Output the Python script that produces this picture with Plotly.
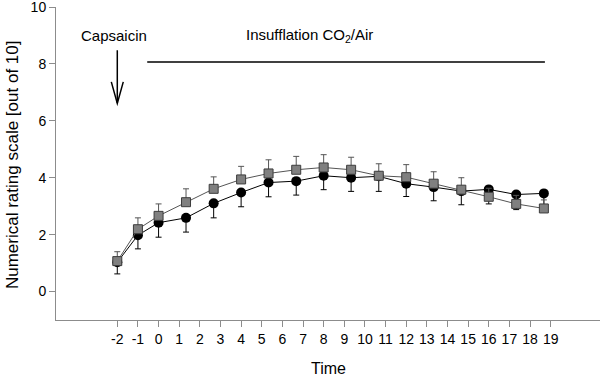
import plotly.graph_objects as go

# Time points (x positions on the time axis)
time_points = [-2, -1, 0, 1.33, 2.67, 4, 5.33, 6.67, 8, 9.33, 10.67, 12, 13.33, 14.67, 16, 17.33, 18.67]

# Gray squares series (mean and upward SEM)
square_mean = [1.07, 2.19, 2.66, 3.14, 3.61, 3.94, 4.15, 4.28, 4.36, 4.28, 4.07, 4.02, 3.79, 3.58, 3.33, 3.08, 2.92]
square_err = [0.33, 0.40, 0.42, 0.47, 0.42, 0.46, 0.48, 0.47, 0.45, 0.44, 0.42, 0.44, 0.42, 0.42, 0.30, 0.30, 0.30]

# Black circles series (mean and downward SEM)
circle_mean = [1.03, 1.98, 2.42, 2.59, 3.10, 3.48, 3.83, 3.88, 4.07, 4.00, 4.05, 3.79, 3.67, 3.53, 3.59, 3.41, 3.45]
circle_err = [0.41, 0.48, 0.51, 0.50, 0.51, 0.50, 0.50, 0.49, 0.49, 0.48, 0.53, 0.45, 0.48, 0.48, 0.51, 0.53, 0.45]

x_tick_vals = list(range(-2, 20))
x_tick_text = [str(v) for v in x_tick_vals]
y_tick_vals = [0, 2, 4, 6, 8, 10]

zeros = [0] * len(time_points)

FONT = "Liberation Sans, Arial, sans-serif"
AXIS_GRAY = "#8c8c8c"

fig = go.Figure()

fig.add_trace(go.Scatter(
    x=time_points, y=circle_mean, mode="lines+markers",
    line=dict(color="#000000", width=1),
    marker=dict(symbol="circle", size=10, color="#000000"),
    error_y=dict(type="data", symmetric=False, array=zeros, arrayminus=circle_err,
                 color="#000000", thickness=1, width=3),
    showlegend=False,
))

fig.add_trace(go.Scatter(
    x=time_points, y=square_mean, mode="lines+markers",
    line=dict(color="#555555", width=1),
    marker=dict(symbol="square", size=9, color="#808080", line=dict(color="#3c3c3c", width=1)),
    error_y=dict(type="data", symmetric=False, array=square_err, arrayminus=zeros,
                 color="#555555", thickness=1, width=3),
    showlegend=False,
))

# Capsaicin arrow (shaft + open V head)
fig.add_shape(type="line", xref="x", yref="y", x0=-2, x1=-2, y0=8.48, y1=6.63,
              line=dict(color="#000000", width=1.5))
fig.add_shape(type="path", xref="x", yref="y",
              path="M -2.29,7.37 L -2,6.61 L -1.71,7.37",
              line=dict(color="#000000", width=1.5))
# Insufflation bar
fig.add_shape(type="line", xref="x", yref="y", x0=-0.55, x1=18.72, y0=8.07, y1=8.07,
              line=dict(color="#000000", width=1.5))

fig.add_annotation(x=-2.16, y=9.0, xref="x", yref="y", text="Capsaicin", showarrow=False,
                   font=dict(family=FONT, size=15, color="#000000"))
fig.add_annotation(x=7.31, y=9.0, xref="x", yref="y", text="Insufflation CO<sub>2</sub>/Air",
                   showarrow=False, font=dict(family=FONT, size=15, color="#000000"))

# Axis titles
fig.add_annotation(x=-0.080, y=0.4966, xref="paper", yref="paper", textangle=-90,
                   text="Numerical rating scale [out of 10]", showarrow=False,
                   xanchor="center", yanchor="middle",
                   font=dict(family=FONT, size=17, color="#000000"))
fig.add_annotation(x=0.5, y=-0.19, xref="paper", yref="paper", text="Time", showarrow=False,
                   xanchor="center", yanchor="bottom",
                   font=dict(family=FONT, size=16, color="#000000"))

fig.update_layout(
    width=600, height=378,
    margin=dict(l=56, r=0, t=7, b=58, autoexpand=False),
    paper_bgcolor="white", plot_bgcolor="white",
    font=dict(family=FONT, color="#000000"),
    xaxis=dict(
        range=[-4.97, 21.39], tickmode="array", tickvals=x_tick_vals, ticktext=x_tick_text,
        ticks="outside", ticklen=6, tickcolor=AXIS_GRAY, tickwidth=1,
        showline=True, linecolor=AXIS_GRAY, linewidth=1, showgrid=False, zeroline=False,
        tickfont=dict(family=FONT, size=14, color="#000000"), automargin=False,
    ),
    yaxis=dict(
        range=[-1, 10], tickmode="array", tickvals=y_tick_vals,
        ticks="outside", ticklen=6, tickcolor=AXIS_GRAY, tickwidth=1,
        showline=True, linecolor=AXIS_GRAY, linewidth=1, showgrid=False, zeroline=False,
        tickfont=dict(family=FONT, size=14, color="#000000"), automargin=False,
        ticklabeloverflow="allow",
    ),
)

fig.write_html("out.html", config={"displayModeBar": False},
               post_script="document.body.style.margin='0';document.body.style.overflow='hidden';")
